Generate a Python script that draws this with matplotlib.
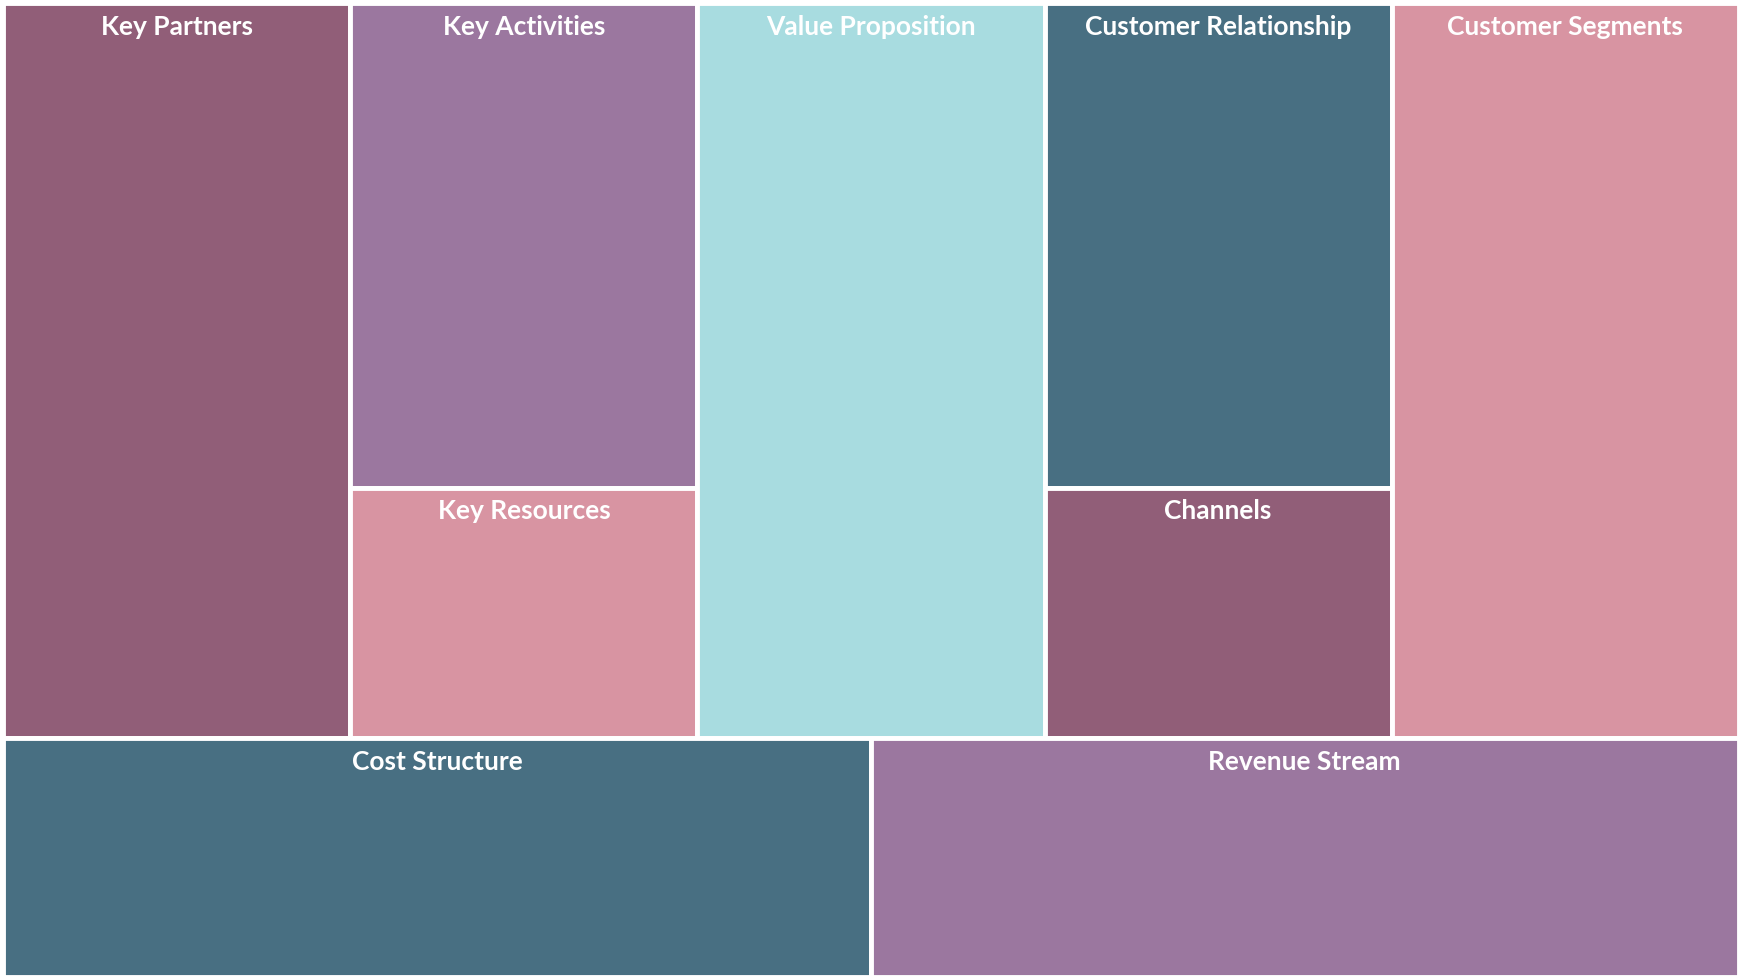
import matplotlib
matplotlib.use("Agg")
import matplotlib.pyplot as plt
from matplotlib.patches import Rectangle

plt.rcParams['font.family'] = ['Lato', 'DejaVu Sans']

# Canvas blocks: name, column start, column span, row start (from bottom), row height
names = ["Key Partners", "Key Activities", "Key Resources", "Value Proposition",
         "Customer Relationship", "Channels", "Customer Segments",
         "Cost Structure", "Revenue Stream"]
col_start = [0, 1, 1, 2, 3, 3, 4, 0, 2.5]
col_span = [1, 1, 1, 1, 1, 1, 1, 2.5, 2.5]
row_start = [1, 2.05, 1, 1, 2.05, 1, 1, 0, 0]
row_height = [3.08, 2.03, 1.05, 3.08, 2.03, 1.05, 3.08, 1, 1]
colors = ["#915E78", "#9B779F", "#D894A2", "#A8DCE0", "#486F82",
          "#915E78", "#D894A2", "#486F82", "#9B779F"]

fig = plt.figure(figsize=(17.42, 9.80), dpi=100)
ax = fig.add_axes([0.002, 0.003, 0.996, 0.994])
for n, x, w, y, h, c in zip(names, col_start, col_span, row_start, row_height, colors):
    ax.add_patch(Rectangle((x, y), w, h, facecolor=c, edgecolor="white", linewidth=3.5))
    ax.text(x + w / 2, y + h - 0.1, n, ha="center", va="center", color="white",
            fontsize=19, fontweight="bold")
ax.set_xlim(0, 5)
ax.set_ylim(0, 4.08)
ax.axis("off")
fig.savefig("out.png", dpi=100, facecolor="white")
